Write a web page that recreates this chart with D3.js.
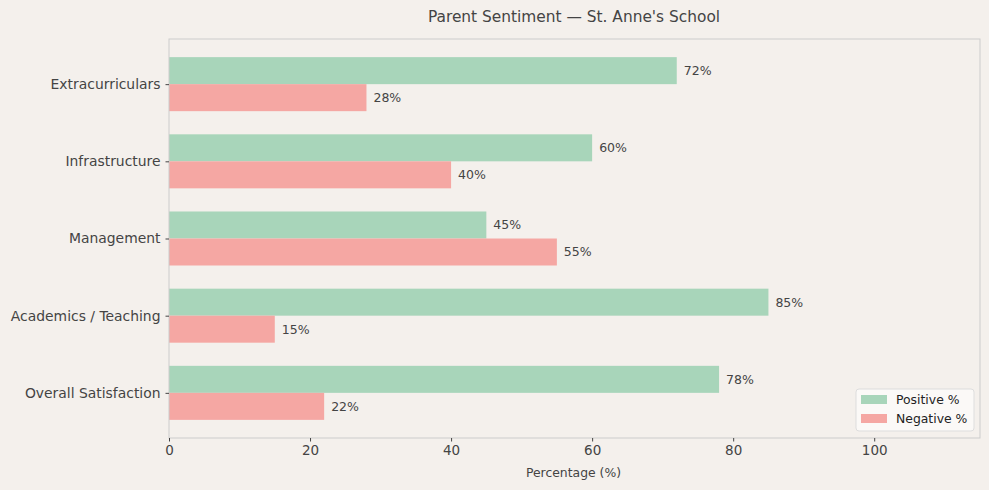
<!DOCTYPE html>
<html>
<head>
<meta charset="utf-8">
<script src="https://cdn.jsdelivr.net/npm/d3@7"></script>
<style>
  body { margin: 0; background: #f4f0ec; }
  svg { display: block; font-family: "DejaVu Sans", sans-serif; }
</style>
</head>
<body>
<svg id="chart" width="989" height="490"></svg>
<script>
// chart data
const categories = ["Overall Satisfaction", "Academics / Teaching", "Management", "Infrastructure", "Extracurriculars"];
const positive = [78, 85, 45, 60, 72];
const negative = [22, 15, 55, 40, 28];
const xTicks = [0, 20, 40, 60, 80, 100];
const seriesNames = ["Positive %", "Negative %"];

function chart() {
    const svg = d3.select("#chart");
    const left = 169, right = 980, top = 39, bottom = 438;
    const barH = 0.35;

    svg.append("rect").attr("width", 989).attr("height", 490).attr("fill", "#f4f0ec");

    const x = d3.scaleLinear().domain([0, 115]).range([left, right]);
    const y = d3.scaleLinear().domain([-0.585, categories.length - 1 + 0.585]).range([bottom, top]);

    const colors = ["#a8d5ba", "#f5a7a3"];

    // bars
    const rows = categories.map((c, i) => ({ c, i, pos: positive[i], neg: negative[i] }));
    const g = svg.append("g");
    rows.forEach(d => {
        // positive sits above the tick, negative below
        g.append("rect")
            .attr("x", x(0)).attr("y", y(d.i + barH))
            .attr("width", x(d.pos) - x(0)).attr("height", y(d.i) - y(d.i + barH))
            .attr("fill", colors[0]);
        g.append("rect")
            .attr("x", x(0)).attr("y", y(d.i))
            .attr("width", x(d.neg) - x(0)).attr("height", y(d.i - barH) - y(d.i))
            .attr("fill", colors[1]);
        g.append("text")
            .attr("x", x(d.pos) + 7).attr("y", y(d.i + barH / 2))
            .attr("dy", "0.35em").attr("font-size", 12.5).attr("fill", "#444")
            .text(d.pos + "%");
        g.append("text")
            .attr("x", x(d.neg) + 7).attr("y", y(d.i - barH / 2))
            .attr("dy", "0.35em").attr("font-size", 12.5).attr("fill", "#444")
            .text(d.neg + "%");
    });

    // frame
    svg.append("rect")
        .attr("x", left).attr("y", top)
        .attr("width", right - left).attr("height", bottom - top)
        .attr("fill", "none").attr("stroke", "#cccccc").attr("stroke-width", 1);

    // x axis
    const xAxis = svg.append("g")
        .attr("transform", "translate(0," + bottom + ")")
        .call(d3.axisBottom(x).tickValues(xTicks).tickSize(3.5).tickPadding(4));
    xAxis.select(".domain").remove();
    xAxis.selectAll("line").attr("stroke", "#444");
    xAxis.selectAll("text").attr("font-size", 13.5).attr("fill", "#444").attr("font-family", "DejaVu Sans");

    // y axis
    const yAxis = svg.append("g")
        .attr("transform", "translate(" + left + ",0)")
        .call(d3.axisLeft(y).tickValues(d3.range(categories.length)).tickFormat(i => categories[i]).tickSize(3.5).tickPadding(5));
    yAxis.select(".domain").remove();
    yAxis.selectAll("line").attr("stroke", "#444");
    yAxis.selectAll("text").attr("font-size", 13.9).attr("fill", "#444").attr("font-family", "DejaVu Sans");

    // labels
    svg.append("text")
        .attr("x", (left + right) / 2 - 1).attr("y", 477)
        .attr("text-anchor", "middle").attr("font-size", 12.4).attr("fill", "#444")
        .text("Percentage (%)");
    svg.append("text")
        .attr("x", (left + right) / 2 - 0.5).attr("y", 22)
        .attr("text-anchor", "middle").attr("font-size", 15.4).attr("fill", "#444")
        .text("Parent Sentiment \u2014 St. Anne's School");

    // legend
    const lg = svg.append("g").attr("transform", "translate(856,389)");
    lg.append("rect").attr("width", 118).attr("height", 42).attr("rx", 3)
        .attr("fill", "#fbf9f7").attr("stroke", "#dddddd");
    seriesNames.forEach((s, i) => {
        lg.append("rect").attr("x", 5).attr("y", 6 + i * 19).attr("width", 26).attr("height", 9).attr("fill", colors[i]);
        lg.append("text").attr("x", 40).attr("y", 11 + i * 19).attr("dy", "0.35em")
            .attr("font-size", 12.4).attr("fill", "#222").text(s);
    });
}

chart();
</script>
</body>
</html>
